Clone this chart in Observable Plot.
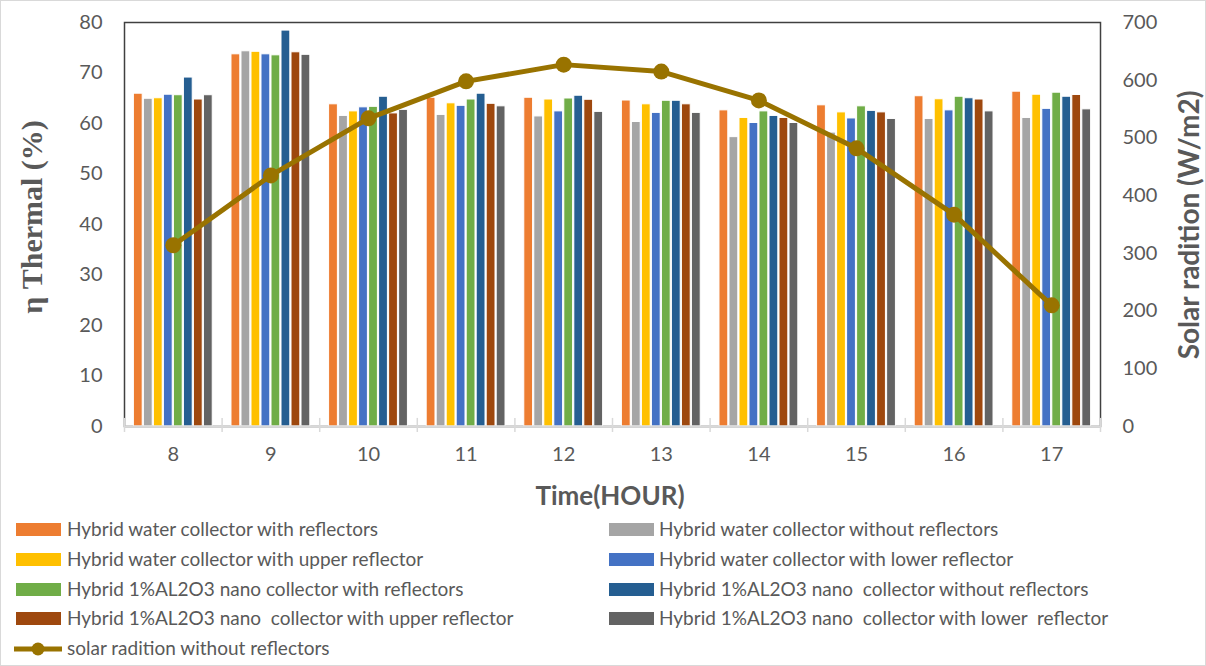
<!DOCTYPE html>
<html>
<head>
<meta charset="utf-8">
<script src="https://cdn.jsdelivr.net/npm/d3@7"></script>
<script src="https://cdn.jsdelivr.net/npm/@observablehq/plot@0.6"></script>
<style>
  html, body { margin: 0; padding: 0; background: #fff; }
  #wrap { position: relative; width: 1206px; height: 666px; overflow: hidden; font-family: Lato, "Open Sans", sans-serif; color: #595959; }
  #border { position: absolute; left: 0; top: 0; width: 1204px; height: 664px; border: 1px solid #d9d9d9; pointer-events: none; }
  #chart { position: absolute; left: 0; top: 0; }
  .ylab { position: absolute; white-space: nowrap; transform-origin: center center; }
  #ylabL { font-family: "Liberation Serif", serif; font-weight: bold; font-size: 30px; }
  #ylabR { font-family: Lato, sans-serif; font-weight: bold; font-size: 28px; }
  #xlab { position: absolute; left: 0; width: 1220px; top: 479px; text-align: center; font-weight: bold; font-size: 26px; }
  .leg { position: absolute; font-size: 19px; white-space: pre; line-height: 22px; }
  .sw { position: absolute; width: 45px; height: 13px; }
</style>
</head>
<body>
<div id="wrap">
  <div id="chart"></div>
  <div id="ylabL" class="ylab">η Thermal (%)</div>
  <div id="ylabR" class="ylab">Solar radition (W/m2)</div>
  <div id="xlab">Time(HOUR)</div>
  <div id="legend"></div>
  <div id="border"></div>
</div>
<script>
const hours = [8, 9, 10, 11, 12, 13, 14, 15, 16, 17];
const seriesNames = [
  "Hybrid water collector with reflectors",
  "Hybrid water collector without reflectors",
  "Hybrid water collector with upper reflector",
  "Hybrid water collector with lower reflector",
  "Hybrid 1%AL2O3 nano collector with reflectors",
  "Hybrid 1%AL2O3 nano  collector without reflectors",
  "Hybrid 1%AL2O3 nano  collector with upper reflector",
  "Hybrid 1%AL2O3 nano  collector with lower  reflector"
];
const seriesColors = ["#ED7D31", "#A5A5A5", "#FFC000", "#4472C4", "#70AD47", "#255E91", "#9E480E", "#636363"];
const waterRefl  = [65.9, 73.7, 63.8, 65.1, 65.1, 64.55, 62.6, 63.6, 65.4, 66.3];
const waterNo    = [64.9, 74.3, 61.5, 61.7, 61.4, 60.3, 57.3, 58.2, 60.9, 61.1];
const waterUpper = [65.0, 74.2, 62.4, 64.0, 64.75, 63.8, 61.1, 62.2, 64.8, 65.7];
const waterLower = [65.7, 73.7, 63.2, 63.5, 62.4, 62.1, 60.1, 61.0, 62.6, 62.9];
const nanoRefl   = [65.6, 73.5, 63.3, 64.75, 64.95, 64.5, 62.4, 63.4, 65.3, 66.1];
const nanoNo     = [69.1, 78.4, 65.3, 65.9, 65.5, 64.5, 61.5, 62.5, 65.0, 65.3];
const nanoUpper  = [64.75, 74.1, 62.0, 63.9, 64.7, 63.8, 61.1, 62.2, 64.75, 65.65];
const nanoLower  = [65.6, 73.6, 62.7, 63.4, 62.3, 62.1, 60.1, 60.9, 62.4, 62.8];
const solarName = "solar radition without reflectors";
const solar = [314, 435, 534, 598, 627, 615, 565, 482, 367, 210];
const leftTicks = [0, 10, 20, 30, 40, 50, 60, 70, 80];
const rightTicks = [0, 100, 200, 300, 400, 500, 600, 700];

const allSeries = [waterRefl, waterNo, waterUpper, waterLower, nanoRefl, nanoNo, nanoUpper, nanoLower];
const nS = allSeries.length;
const bars = [];
allSeries.forEach((vals, si) => vals.forEach((v, hi) => bars.push({hour: hours[hi], si, name: seriesNames[si], value: v})));
const solarData = hours.map((h, i) => ({hour: h, solar: solar[i]}));
const yMax = 80, rMax = 700;
const toLeft = v => v * yMax / rMax;

const pad = 0.09, slot = (1 - 2 * pad) / nS;
const bounds = hours.map(h => h - 0.5).concat([hours[hours.length - 1] + 0.5]);

const plot = Plot.plot({
  width: 1206,
  height: 500,
  marginLeft: 124,
  marginRight: 106,
  marginTop: 22,
  marginBottom: 74,
  style: {fontFamily: "Lato, sans-serif", fontSize: "20px", color: "#595959", background: "transparent"},
  x: {type: "linear", domain: [hours[0] - 0.5, hours[hours.length - 1] + 0.5], label: null},
  y: {domain: [0, yMax], label: null},
  color: {domain: seriesNames, range: seriesColors},
  marks: [
    Plot.frame({stroke: "#404040", strokeWidth: 1.5}),
    Plot.rectY(bars, {
      x1: d => d.hour - 0.5 + pad + d.si * slot,
      x2: d => d.hour - 0.5 + pad + (d.si + 1) * slot,
      y1: 0, y2: "value",
      fill: "name", stroke: "white", strokeWidth: 1, insetLeft: 0.6, insetRight: 0.6
    }),
    Plot.ruleY([0], {stroke: "#d9d9d9", strokeWidth: 2}),
    Plot.ruleX(bounds, {y1: 0, y2: 1.6, stroke: "#d9d9d9", strokeWidth: 1.5}),
    Plot.axisX(bounds, {tickSize: 6, stroke: "#d9d9d9", strokeWidth: 1.5, text: null, label: null}),
    Plot.axisX({ticks: hours, tickSize: 0, tickPadding: 20, fontSize: 20, fill: "#595959", label: null}),
    Plot.axisY({ticks: leftTicks, tickSize: 0, tickPadding: 22, fontSize: 20, fill: "#595959", label: null}),
    Plot.axisY({anchor: "right", ticks: rightTicks.map(toLeft), tickFormat: d => Math.round(d * rMax / yMax), tickSize: 0, tickPadding: 22, fontSize: 20, fill: "#595959", label: null}),
    Plot.line(solarData, {x: "hour", y: d => toLeft(d.solar), stroke: "#997300", strokeWidth: 5}),
    Plot.dot(solarData, {x: "hour", y: d => toLeft(d.solar), r: 8, fill: "#997300"})
  ]
});
document.getElementById("chart").appendChild(plot);

// rotated axis titles
function placeRot(id, cx, cy) {
  const el = document.getElementById(id);
  const w = el.offsetWidth, h = el.offsetHeight;
  el.style.left = (cx - w / 2) + "px";
  el.style.top = (cy - h / 2) + "px";
  el.style.transform = "rotate(-90deg)";
}
placeRot("ylabL", 32, 217);
placeRot("ylabR", 1188, 225);

// legend
const legend = document.getElementById("legend");
const rowY = [530, 560, 590, 619, 649];
const colX = [16, 609];
const textX = [67, 659];
seriesNames.forEach((name, i) => {
  const col = i % 2, row = Math.floor(i / 2);
  const sw = document.createElement("div");
  sw.className = "sw";
  sw.style.left = colX[col] + "px";
  sw.style.top = (rowY[row] - 7) + "px";
  sw.style.background = seriesColors[i];
  legend.appendChild(sw);
  const t = document.createElement("div");
  t.className = "leg";
  t.textContent = name;
  t.style.left = textX[col] + "px";
  t.style.top = (rowY[row] - 12) + "px";
  legend.appendChild(t);
});
{
  const y = rowY[4];
  const ns = "http://www.w3.org/2000/svg";
  const s = document.createElementNS(ns, "svg");
  s.setAttribute("width", 60); s.setAttribute("height", 20);
  s.style.position = "absolute"; s.style.left = "12px"; s.style.top = (y - 10) + "px";
  const l = document.createElementNS(ns, "line");
  l.setAttribute("x1", 2); l.setAttribute("x2", 50); l.setAttribute("y1", 10); l.setAttribute("y2", 10);
  l.setAttribute("stroke", "#997300"); l.setAttribute("stroke-width", 5);
  s.appendChild(l);
  const c = document.createElementNS(ns, "circle");
  c.setAttribute("cx", 26); c.setAttribute("cy", 10); c.setAttribute("r", 6.5); c.setAttribute("fill", "#997300");
  s.appendChild(c);
  legend.appendChild(s);
  const t = document.createElement("div");
  t.className = "leg";
  t.textContent = solarName;
  t.style.left = textX[0] + "px";
  t.style.top = (y - 12) + "px";
  legend.appendChild(t);
}
</script>
</body>
</html>
